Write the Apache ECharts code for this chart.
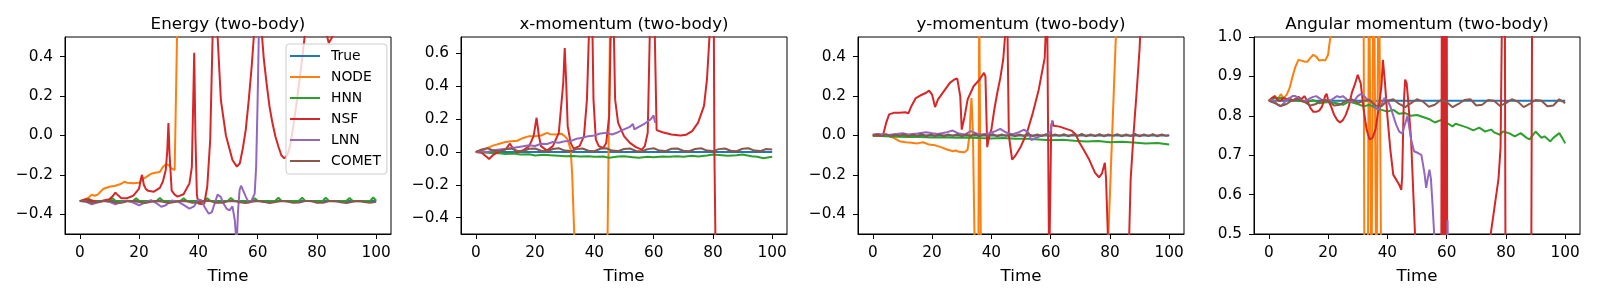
<!DOCTYPE html>
<html><head><meta charset="utf-8">
<script src="https://cdn.jsdelivr.net/npm/echarts@6/dist/echarts.min.js"></script>
<style>html,body{margin:0;padding:0;background:#fff}#c{width:1600px;height:300px}</style>
</head><body><div id="c"></div>
<script>
// ---------- labels ----------
const seriesNames = ['True','NODE','HNN','NSF','LNN','COMET'];
const panelTitles = ['Energy (two-body)','x-momentum (two-body)','y-momentum (two-body)','Angular momentum (two-body)'];
const xLabel = 'Time';
const xTicks = [0,20,40,60,80,100];
const yTicksE = [-0.4,-0.2,0.0,0.2,0.4];
const yTicksX = [-0.4,-0.2,0.0,0.2,0.4,0.6];
const yTicksY = [-0.4,-0.2,0.0,0.2,0.4];
const yTicksA = [0.5,0.6,0.7,0.8,0.9,1.0];
const yRangeE = [-0.5,0.5], yRangeX = [-0.5,0.7], yRangeY = [-0.5,0.5], yRangeA = [0.5,1.0];
const xRange = [-5,105];

// shared time grids
const T2 = [0,2,4,6,8,10,12,14,16,18,20,22,24,26,28,30,32,34,36,38,40,42,44,46,48,50,52,54,56,58,60,62,64,66,68,70,72,74,76,78,80,82,84,86,88,90,92,94,96,98,100];
const T15 = [0,1.5,3,4.5,6,7.5,9,10.5,12,13.5,15,16.5,18,19.5,21,22.5,24,25.5,27,28.5,30,31.5,33,34.5,36,37.5,39,40.5,42,43.5,45,46.5,48,49.5,51,52.5,54,55.5,57,58.5,60,61.5,63,64.5,66,67.5,69,70.5,72,73.5,75,76.5,78,79.5,81,82.5,84,85.5,87,88.5,90,91.5,93,94.5,96,97.5,99,100];

// ---------- Energy ----------
const E_TRUE_t = [0,100];
const E_TRUE_v = [-0.333,-0.333];
const E_NODE_t = [0,1,2,3,4,5,6,8,10,12,13,14,15,16,18,20,21,22,24,25,27,28,29,30,31,32,32.4,32.8,33.2];
const E_NODE_v = [-0.333,-0.33,-0.322,-0.315,-0.30,-0.306,-0.30,-0.27,-0.26,-0.255,-0.25,-0.245,-0.235,-0.24,-0.242,-0.24,-0.222,-0.215,-0.195,-0.19,-0.185,-0.16,-0.147,-0.15,-0.168,-0.175,-0.17,0.5,1.5];
const E_HNN_t = [0,2,3,4, 6,8,10,11,12, 14,16,18,19,20, 22,24,26,27,28, 30,32,34,35,36, 38,40,42,43,44, 46,48,50,51,52, 54,56,58,59,60, 62,64,66,67,68, 70,72,74,75,76, 78,80,82,83,84, 86,88,90,91,92, 94,96,98,99,100];
const E_HNN_v = [-0.333,-0.330,-0.322,-0.331,
  -0.334,-0.333,-0.331,-0.318,-0.331, -0.334,-0.333,-0.331,-0.318,-0.331, -0.334,-0.333,-0.331,-0.317,-0.331,
  -0.334,-0.333,-0.331,-0.319,-0.331, -0.334,-0.333,-0.331,-0.318,-0.331, -0.334,-0.333,-0.331,-0.317,-0.331,
  -0.334,-0.333,-0.331,-0.318,-0.331, -0.334,-0.333,-0.331,-0.316,-0.331, -0.334,-0.333,-0.331,-0.316,-0.331,
  -0.334,-0.333,-0.331,-0.316,-0.331, -0.334,-0.333,-0.331,-0.317,-0.331, -0.334,-0.333,-0.331,-0.315,-0.331];
const E_NSF_t = [0,2,4,6,8,10,11,12,13,14,16,18,20,20.6,21,21.6,22.3,23,25,27,28,29,29.5,29.9,30.3,31,32,33,35,37,37.8,38.3,38.6,39,39.5,40,41,42,43,44,44.8,45.5,46.5,47.6,49.3,51.5,53,54,55,56,57,58,58.7,59.3,61,61.5,62.1,63,64,65,66,67,68,69,70,71,72,73,74,75,76,77,82.5,83.5,84,84.5,85.2,87,100];
const E_NSF_v = [-0.333,-0.323,-0.33,-0.337,-0.33,-0.323,-0.31,-0.29,-0.305,-0.318,-0.318,-0.306,-0.27,-0.22,-0.2,-0.25,-0.272,-0.28,-0.285,-0.266,-0.235,-0.175,-0.08,0.063,-0.1,-0.28,-0.3,-0.31,-0.298,-0.243,-0.16,0.2,0.42,0.0,-0.3,-0.345,-0.348,-0.345,-0.26,-0.02,0.5,1.2,0.5,0.18,0.0,-0.124,-0.158,-0.141,-0.065,0.03,0.18,0.352,0.5,1.2,1.2,0.5,0.386,0.267,0.148,0.063,-0.005,-0.056,-0.1,-0.116,-0.1,-0.05,0.046,0.148,0.267,0.386,0.52,1.2,1.2,0.5,0.47,0.48,0.5,1.2,2.0];
const E_LNN_t = [0,2,4,6,8,10,12,14,16,18,20,22,24,26,27.5,29,31,33,35,37,38.5,40,41,42,43.5,44.5,45.5,46.5,47.5,48.5,49.5,50.5,51.5,52.3,52.9,53.4,53.9,54.4,55,56,57,58,59,59.5,60,60.5];
const E_LNN_v = [-0.333,-0.335,-0.349,-0.34,-0.333,-0.337,-0.349,-0.338,-0.331,-0.34,-0.354,-0.34,-0.328,-0.345,-0.362,-0.354,-0.33,-0.335,-0.352,-0.371,-0.36,-0.325,-0.328,-0.36,-0.397,-0.39,-0.345,-0.3,-0.311,-0.345,-0.371,-0.38,-0.36,-0.43,-0.56,-0.38,-0.277,-0.255,-0.275,-0.31,-0.342,-0.328,-0.295,-0.158,0.18,0.6];
const E_COMET_t = T2;
const E_COMET_v = [-0.333,-0.335,-0.342,-0.338,-0.332,-0.333,-0.340,-0.342,-0.334,-0.332,-0.338,-0.343,-0.336,-0.332,-0.336,-0.343,-0.338,-0.332,-0.334,-0.342,-0.340,-0.333,-0.333,-0.341,-0.342,-0.334,-0.332,-0.339,-0.343,-0.336,-0.332,-0.337,-0.343,-0.338,-0.332,-0.335,-0.342,-0.340,-0.333,-0.333,-0.341,-0.342,-0.334,-0.332,-0.339,-0.343,-0.336,-0.332,-0.337,-0.342,-0.336];

// ---------- x-momentum ----------
const X_TRUE_t = [0,100];
const X_TRUE_v = [0,0];
const X_NODE_t = [0,2,4,6,8,10,12,14,16,18,20,22,24,25,27,29,30,31,32,32.5,33.3,38,44.4,45.3,50,100];
const X_NODE_v = [0,0.01,0.025,0.04,0.05,0.06,0.065,0.068,0.085,0.096,0.096,0.1,0.116,0.108,0.106,0.11,0.096,0.075,0.014,-0.13,-0.55,-3,-0.6,0.8,3,5];
const X_HNN_t = [0,3,5,8,10,13,15,18,20,23,25,28,30,33,35,38,40,43,45,48,50,53,55,58,60,63,65,68,70,73,75,78,80,83,85,88,90,93,95,97,100];
const X_HNN_v = [0,-0.003,-0.006,-0.008,-0.012,-0.01,-0.016,-0.014,-0.022,-0.018,-0.02,-0.024,-0.027,-0.025,-0.028,-0.026,-0.03,-0.028,-0.035,-0.028,-0.026,-0.032,-0.036,-0.03,-0.033,-0.028,-0.03,-0.026,-0.03,-0.024,-0.028,-0.022,-0.016,-0.02,-0.024,-0.02,-0.016,-0.026,-0.03,-0.039,-0.029];
const X_NSF_t = [0,2,4.5,6,8,10,11.5,12.5,14,16,18,19.5,20.5,21.3,22,24,26,28,29.5,30,30.5,31,32,33,35,36.5,37.5,38.3,39.3,39.7,40.5,41.5,43,44,45,45.6,46.5,47,48,50,52,54,56,57,58,58.8,60.3,61,63,66,69,71,73,75,77,78,79,80.2,80.5,80.9,100];
const X_NSF_v = [0,-0.005,-0.043,-0.016,0.004,0.014,0.05,0.024,0,0.01,0.035,0.096,0.208,0.096,0.035,0.008,0.035,0.116,0.42,0.633,0.42,0.157,0.055,0.02,0.035,0.096,0.32,0.8,0.8,0.32,0.075,0.035,0.024,0.055,0.218,0.8,0.8,0.32,0.178,0.096,0.055,0.029,0.014,0.035,0.116,0.8,0.8,0.133,0.12,0.106,0.1,0.105,0.127,0.178,0.28,0.443,0.75,1.2,0.0,-0.6,-3];
const X_LNN_t = [0,2,4,6,8,10,12,14,16,18,20,22,24,26,28,30,32,34,36,38,40,42,44,46,48,50,52,53,53.5,55,57,59,60,60.5];
const X_LNN_v = [0,0.004,0.0,0.01,0.014,0.018,0.024,0.029,0.034,0.04,0.036,0.05,0.048,0.06,0.056,0.065,0.066,0.08,0.086,0.096,0.1,0.112,0.116,0.106,0.12,0.137,0.153,0.17,0.137,0.153,0.173,0.198,0.222,0.177];
const X_COMET_t = T2;
const X_COMET_v = [0,0.015,0.022,0.008,0.004,0.018,0.02,0.006,0.005,0.019,0.021,0.007,0.004,0.018,0.022,0.008,0.005,0.017,0.021,0.007,0.004,0.019,0.022,0.008,0.005,0.018,0.021,0.006,0.004,0.017,0.022,0.008,0.005,0.019,0.021,0.007,0.004,0.018,0.022,0.008,0.005,0.017,0.021,0.007,0.004,0.019,0.022,0.008,0.005,0.018,0.015];

// ---------- y-momentum ----------
const Y_TRUE_t = [0,100];
const Y_TRUE_v = [0,0];
const Y_NODE_t = [0,3,5,7,9,11,13,15,17,19,21,23,25,27,28,29,31,32,32.7,33,33.3,33.8,34.5,35.6,35.9,36.2,36.5,50,79,82.5,90,100];
const Y_NODE_v = [0,0.002,0,-0.012,-0.029,-0.034,-0.037,-0.04,-0.034,-0.046,-0.05,-0.059,-0.071,-0.08,-0.076,-0.083,-0.085,-0.071,0.014,0.13,0.19,0.0,-0.7,-0.7,0.7,0.7,-0.7,-3,-0.7,0.7,3,5];
const Y_HNN_t = [0,4,8,12,16,20,24,28,32,36,40,44,48,52,56,60,64,68,72,76,80,84,88,92,96,100];
const Y_HNN_v = [0,-0.004,-0.006,-0.008,-0.007,-0.01,-0.009,-0.012,-0.01,-0.013,-0.015,-0.013,-0.017,-0.016,-0.02,-0.024,-0.022,-0.027,-0.03,-0.028,-0.034,-0.032,-0.036,-0.04,-0.038,-0.046];
const Y_NSF_t = [0,2,3.5,4.5,5.5,7,9,11,12,13,14.5,16,18,19,20,21,22,24,26,27.5,28.5,29.5,30,31,32,34,36,37.5,38,38.6,39.3,40,41,42,43,44,44.6,45.2,45.9,47,48,50,52,54,56,58,58.8,59.3,59.5,59.8,60.2,60.6,61,63,65,67,68.5,69.5,71,73,75,76.3,77.3,78.3,78.7,79.3,80,86,87,88,89,90,90.5,100];
const Y_NSF_v = [0,0.0,0.005,0.064,0.107,0.115,0.115,0.118,0.112,0.149,0.19,0.203,0.217,0.228,0.208,0.144,0.183,0.225,0.267,0.284,0.289,0.2,0.03,0.098,0.183,0.25,0.284,0.318,0.3,-0.059,0.0,0.03,0.132,0.217,0.29,0.386,0.5,0.8,0.0,-0.122,-0.105,-0.054,0.014,0.115,0.234,0.394,0.7,0.7,-0.7,-0.7,0.05,0.075,0.05,0.045,0.035,0.025,0.005,-0.03,-0.068,-0.122,-0.19,-0.212,-0.193,-0.139,-0.22,-0.5,-0.8,-0.8,-0.223,0.014,0.217,0.437,0.6,2.0];
const Y_LNN_t = [0,2,5,8,10,12,15,18,20,22,25,27,29,31,33,35,37,39,41,43,45,47,49,51,52.5,53.5,55,57,59,60,60.6];
const Y_LNN_v = [0.005,0.008,0.003,0.008,0.012,0.005,0.01,0.017,0.012,0.008,0.017,0.025,0.01,0.005,0.022,0.01,0.005,0.01,0.02,0.034,0.015,0.005,0.015,0.03,0.015,-0.024,-0.012,0.0,0.005,0.02,0.076];
const Y_COMET_t = T15;
const Y_COMET_v = [0,0.006,-0.003,0.007,-0.004,0.006,-0.002,0.007,-0.004,0.006,-0.003,0.008,-0.004,0.006,-0.003,0.007,-0.004,0.006,-0.002,0.007,-0.004,0.006,-0.003,0.008,-0.004,0.006,-0.003,0.007,-0.004,0.006,-0.002,0.007,-0.004,0.006,-0.003,0.008,-0.004,0.006,-0.003,0.007,-0.004,0.006,-0.002,0.007,-0.004,0.006,-0.003,0.008,-0.004,0.006,-0.003,0.007,-0.004,0.006,-0.002,0.007,-0.004,0.006,-0.003,0.008,-0.004,0.006,-0.003,0.007,-0.004,0.006,-0.002,0.002];

// ---------- Angular momentum ----------
const A_TRUE_t = [0,100];
const A_TRUE_v = [0.838,0.838];
const A_NODE_t = [0,1,2,3,4,5,6,7,8,9,10,11,12,13,14,15,16,17,18,19,20,20.5,21,21.5,31.9,32.3,33.4,33.8,34.2,34.6,35.0,35.4,35.9,36.3,36.7,37.1,37.6,38.0];
const A_NODE_v = [0.838,0.843,0.85,0.84,0.855,0.845,0.853,0.87,0.9,0.925,0.942,0.94,0.938,0.937,0.947,0.955,0.95,0.94,0.942,0.94,0.955,0.985,1.01,1.3,1.3,0.3,0.3,1.3,1.3,0.3,0.3,1.3,1.3,0.3,0.3,1.3,1.3,0.3];
const A_HNN_t = [0,2,5,7,10,13,15,17,20,23,25,27,30,32,34,36,38,40,42,44,46,48,50,52,54,56,58,60,62,63,65,67,69,71,73,75,76,78,79,81,83,85,87,88,90,92,93,95,96,98,99,100];
const A_HNN_v = [0.838,0.845,0.845,0.84,0.838,0.835,0.84,0.832,0.835,0.832,0.828,0.836,0.83,0.824,0.828,0.82,0.815,0.811,0.815,0.805,0.807,0.8,0.802,0.797,0.792,0.783,0.789,0.782,0.773,0.78,0.775,0.77,0.763,0.77,0.76,0.765,0.758,0.752,0.76,0.756,0.748,0.756,0.744,0.74,0.76,0.744,0.748,0.735,0.744,0.756,0.744,0.73];
const A_NSF_t = [0,1,2,3,4,5,6,7,8,9,10,11,12,13,14,15,16,17,18,19,19.5,20,21,22,23,24,25,26,27,28,29,30,30.5,31,32,33,34,35,36,37,38,38.5,38.8,39.2,40,41,42,43,44,44.7,45,45.5,46,46.5,47,48,49,49.6,50,58.2,58.4,58.6,58.8,59.0,59.2,59.4,59.6,59.8,60.0,60.2,74.5,76,77.5,78.2,78.6,78.9,79.6,79.9,88.5,88.9,100];
const A_NSF_v = [0.838,0.845,0.85,0.84,0.838,0.845,0.842,0.845,0.838,0.843,0.848,0.842,0.85,0.837,0.82,0.81,0.81,0.813,0.824,0.85,0.856,0.84,0.824,0.803,0.79,0.783,0.789,0.803,0.824,0.858,0.879,0.904,0.909,0.883,0.816,0.765,0.74,0.744,0.765,0.816,0.875,0.942,0.947,0.883,0.8,0.714,0.65,0.638,0.625,0.612,0.646,0.824,0.892,0.883,0.841,0.74,0.56,0.45,0.42,0.4,1.2,0.3,1.2,0.3,1.2,0.3,1.2,0.3,1.2,0.4,0.48,0.56,0.64,0.72,1.0,1.2,1.2,0.3,0.3,1.2,1.5];
const A_LNN_t = [0,1,2,3,4,5,6,7,8,9,10,11,12,13,14,15,16,17,18,19,20,21,22,23,24,25,26,27,28,29,30,31,32,33,34,35,36,37,38,39,40,41,42,43,44,45,46,46.8,48,49,50.5,51.5,52.5,53.1,53.6,54.2,54.7,55.2,55.8,56.3,60.1,60.3,60.5];
const A_LNN_v = [0.838,0.84,0.836,0.828,0.824,0.832,0.84,0.845,0.85,0.85,0.845,0.84,0.836,0.84,0.845,0.848,0.85,0.845,0.84,0.84,0.838,0.84,0.845,0.85,0.847,0.85,0.844,0.836,0.836,0.84,0.85,0.855,0.852,0.843,0.84,0.832,0.82,0.815,0.828,0.845,0.84,0.824,0.8,0.777,0.76,0.755,0.78,0.8,0.74,0.71,0.705,0.7,0.655,0.617,0.64,0.663,0.64,0.58,0.5,0.45,0.4,0.535,0.4];
const A_COMET_t = T2;
const A_COMET_v = [0.838,0.832,0.825,0.83,0.84,0.842,0.835,0.826,0.83,0.84,0.838,0.826,0.828,0.838,0.842,0.832,0.838,0.84,0.826,0.824,0.838,0.842,0.83,0.822,0.832,0.842,0.836,0.823,0.828,0.84,0.835,0.822,0.83,0.84,0.842,0.826,0.828,0.84,0.838,0.825,0.832,0.842,0.836,0.822,0.83,0.84,0.838,0.824,0.826,0.842,0.832];

// ---------- assemble ----------
const colors = ['#1f77b4','#ff7f0e','#2ca02c','#d62728','#9467bd','#8c564b'];
const FONT = 'DejaVu Sans';
const panels = [
  {ts:[E_TRUE_t,E_NODE_t,E_HNN_t,E_NSF_t,E_LNN_t,E_COMET_t], vs:[E_TRUE_v,E_NODE_v,E_HNN_v,E_NSF_v,E_LNN_v,E_COMET_v], range:yRangeE, ticks:yTicksE},
  {ts:[X_TRUE_t,X_NODE_t,X_HNN_t,X_NSF_t,X_LNN_t,X_COMET_t], vs:[X_TRUE_v,X_NODE_v,X_HNN_v,X_NSF_v,X_LNN_v,X_COMET_v], range:yRangeX, ticks:yTicksX},
  {ts:[Y_TRUE_t,Y_NODE_t,Y_HNN_t,Y_NSF_t,Y_LNN_t,Y_COMET_t], vs:[Y_TRUE_v,Y_NODE_v,Y_HNN_v,Y_NSF_v,Y_LNN_v,Y_COMET_v], range:yRangeY, ticks:yTicksY},
  {ts:[A_TRUE_t,A_NODE_t,A_HNN_t,A_NSF_t,A_LNN_t,A_COMET_t], vs:[A_TRUE_v,A_NODE_v,A_HNN_v,A_NSF_v,A_LNN_v,A_COMET_v], range:yRangeA, ticks:yTicksA}
];
const gridLefts = [65, 461, 858, 1254];
const gridW = 326, gridTop = 37, gridH = 197;

const grid = [], xAxis = [], yAxis = [], title = [], series = [];
panels.forEach((p, i) => {
  grid.push({left: gridLefts[i], top: gridTop, width: gridW, height: gridH, show: true, borderColor: '#000', borderWidth: 1, backgroundColor: 'transparent'});
  title.push({text: panelTitles[i], left: gridLefts[i] + gridW / 2, top: 16, textAlign: 'center', padding: 0,
    textStyle: {fontSize: 16.7, fontWeight: 'normal', color: '#000', fontFamily: FONT}});
  xAxis.push({type: 'value', gridIndex: i, min: xRange[0], max: xRange[1],
    name: xLabel, nameLocation: 'middle', nameGap: 34, nameTextStyle: {fontSize: 16.7, color: '#000', fontFamily: FONT},
    axisLine: {show: true, onZero: false, lineStyle: {color: '#000', width: 1}},
    axisTick: {show: true, length: 5, customValues: xTicks, lineStyle: {color: '#000', width: 1}},
    axisLabel: {customValues: xTicks, fontSize: 15.3, color: '#000', fontFamily: FONT, margin: 12},
    splitLine: {show: false}});
  yAxis.push({type: 'value', gridIndex: i, min: p.range[0], max: p.range[1],
    axisLine: {show: true, onZero: false, lineStyle: {color: '#000', width: 1}},
    axisTick: {show: true, length: 5, customValues: p.ticks, lineStyle: {color: '#000', width: 1}},
    axisLabel: {customValues: p.ticks, fontSize: 15.3, color: '#000', fontFamily: FONT, margin: 12,
      formatter: v => { const s = (+v).toFixed(1); return s === '-0.0' ? '0.0' : s.replace('-', '\u2212'); }},
    splitLine: {show: false}});
  seriesNames.forEach((name, k) => {
    const t = p.ts[k], v = p.vs[k];
    series.push({name, type: 'line', xAxisIndex: i, yAxisIndex: i, showSymbol: false, symbol: 'none',
      clip: true, lineStyle: {width: 2, color: colors[k]}, itemStyle: {color: colors[k]},
      data: t.map((x, j) => [x, v[j]])});
  });
});

const chart = echarts.init(document.getElementById('c'), null, {renderer: 'canvas'});
chart.setOption({
  animation: false,
  backgroundColor: '#fff',
  title, grid, xAxis, yAxis, series,
  legend: {data: seriesNames, orient: 'vertical', left: 286, top: 44, icon: 'rect', itemWidth: 30, itemHeight: 2,
    itemGap: 7, padding: [5, 6, 6, 4], backgroundColor: 'rgba(255,255,255,0.8)', borderColor: '#ccc', borderWidth: 1, borderRadius: 3,
    textStyle: {fontSize: 13.9, color: '#000', fontFamily: FONT, padding: [0, 0, 0, 6]}}
});
</script></body></html>
